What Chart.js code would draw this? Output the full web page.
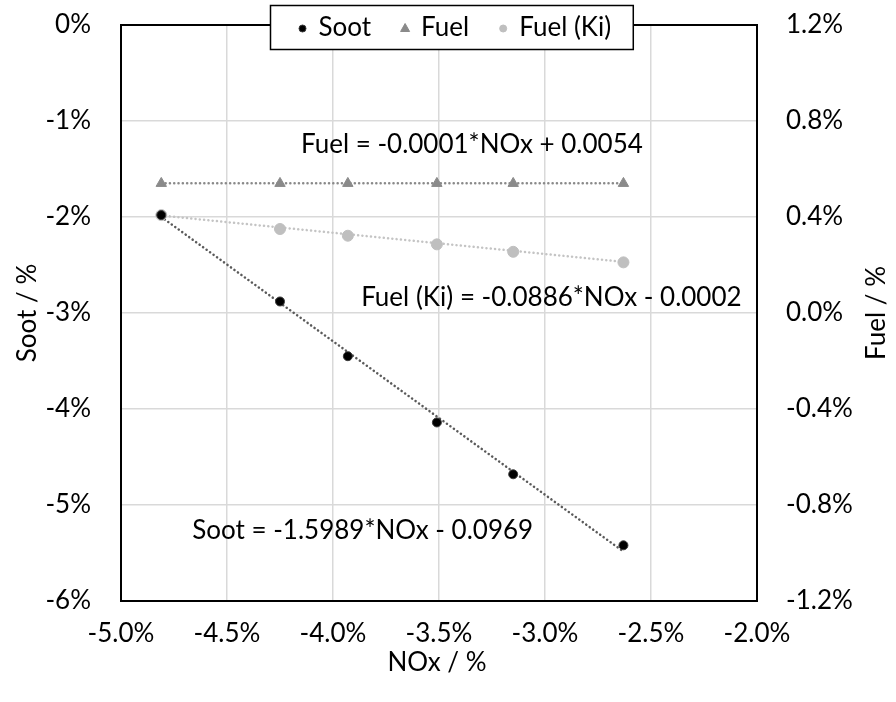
<!DOCTYPE html>
<html>
<head>
<meta charset="utf-8">
<script src="https://cdn.jsdelivr.net/npm/chart.js@4.4.1/dist/chart.umd.min.js"></script>
<style>
  html, body { margin: 0; padding: 0; background: #fff; }
  #wrap { width: 896px; height: 702px; }
</style>
</head>
<body>
<div id="wrap"><canvas id="c" width="896" height="702"></canvas></div>
<script>
// Measured points (all values in %)
const noxPct    = [-4.81, -4.25, -3.93, -3.51, -3.15, -2.63];
const sootPct   = [-1.98, -2.88, -3.45, -4.14, -4.68, -5.42];
const fuelPct   = [0.54, 0.54, 0.54, 0.54, 0.54, 0.54];
const fuelKiPct = [0.408, 0.350, 0.322, 0.286, 0.255, 0.211];

const seriesNames = ['Soot', 'Fuel', 'Fuel (Ki)'];

// Linear trend coefficients in fraction units: y = slope * NOx + intercept
const sootFit   = { slope: -1.5989, intercept: -0.0969 };
const fuelFit   = { slope: -0.0001, intercept: 0.0054 };
const fuelKiFit = { slope: -0.0886, intercept: -0.0002 };

// Axis ticks
const xTicks    = [-5.0, -4.5, -4.0, -3.5, -3.0, -2.5, -2.0];
const sootTicks = [0, -1, -2, -3, -4, -5, -6];
const fuelTicks = [1.2, 0.8, 0.4, 0.0, -0.4, -0.8, -1.2];

const FONT = 'Lato';
const FS = 26;
const TXT = '#000';

// trend line through the first and last NOx value, computed in % units
function trend(fit) {
  const xs = [noxPct[0], noxPct[noxPct.length - 1]];
  return xs.map(x => ({ x: x, y: fit.slope * x + fit.intercept * 100 }));
}
function eqText(name, fit) {
  const sign = fit.intercept < 0 ? '-' : '+';
  return name + ' = ' + fit.slope.toFixed(4) + '*NOx ' + sign + ' ' + Math.abs(fit.intercept).toFixed(4);
}
const pts = ys => noxPct.map((x, i) => ({ x: x, y: ys[i] }));

const sootStyle   = { color: '#000000', border: '#3a3a3a', style: 'circle',   r: 4.5 };
const fuelStyle   = { color: '#8a8a8a', border: '#8a8a8a', style: 'triangle', r: 6 };
const fuelKiStyle = { color: '#bfbfbf', border: '#bfbfbf', style: 'circle',   r: 5.5 };

// equation labels: text, centre position on the NOx / Soot scales
const eqLabels = [
  { text: eqText('Fuel', fuelFit),        x: -3.345, y: -1.25 },
  { text: eqText('Fuel (Ki)', fuelKiFit), x: -2.97,  y: -2.84 },
  { text: eqText('Soot', sootFit),        x: -3.86,  y: -5.27 }
];

function drawMarker(ctx, style, x, y, r, fill, stroke) {
  ctx.save();
  ctx.fillStyle = fill;
  ctx.strokeStyle = stroke;
  ctx.lineWidth = 1;
  ctx.beginPath();
  if (style === 'triangle') {
    ctx.moveTo(x, y - r);
    ctx.lineTo(x + r * 0.9, y + r * 0.6);
    ctx.lineTo(x - r * 0.9, y + r * 0.6);
    ctx.closePath();
  } else {
    ctx.arc(x, y, r, 0, Math.PI * 2);
  }
  ctx.fill();
  ctx.stroke();
  ctx.restore();
}

const decorPlugin = {
  id: 'decor',
  afterDatasetsDraw(chart) {
    const { ctx, chartArea: a } = chart;
    ctx.save();
    ctx.strokeStyle = '#000';
    ctx.lineWidth = 2;
    ctx.strokeRect(a.left, a.top, a.right - a.left, a.bottom - a.top);
    ctx.restore();
  },
  afterDraw(chart) {
    const { ctx, chartArea: a, scales } = chart;
    ctx.save();
    ctx.font = FS + 'px ' + FONT;
    ctx.fillStyle = TXT;
    ctx.textAlign = 'center';
    ctx.textBaseline = 'middle';

    // equation labels
    eqLabels.forEach(l => {
      ctx.fillText(l.text, scales.x.getPixelForValue(l.x), scales.y.getPixelForValue(l.y));
    });

    // axis titles
    ctx.fillText('NOx / %', (a.left + a.right) / 2 - 2, 663);
    const midY = (a.top + a.bottom) / 2;
    ctx.save();
    ctx.translate(28, midY);
    ctx.rotate(-Math.PI / 2);
    ctx.fillText('Soot / %', 0, 0);
    ctx.restore();
    ctx.save();
    ctx.translate(877, midY);
    ctx.rotate(-Math.PI / 2);
    ctx.fillText('Fuel / %', 0, 0);
    ctx.restore();

    // legend box
    const styles = [sootStyle, fuelStyle, fuelKiStyle];
    const toText = 20, gap = 30, padL = 32, padR = 18;
    ctx.textAlign = 'left';
    const widths = seriesNames.map(n => ctx.measureText(n).width);
    const boxW = padL + padR + widths.reduce((s, w) => s + w + toText, 0) + gap * (seriesNames.length - 1);
    const boxH = 44;
    const cx = 451;
    const bx = Math.round(cx - boxW / 2) + 0.5, by = 5.5;
    ctx.fillStyle = '#fff';
    ctx.fillRect(bx, by, boxW, boxH);
    ctx.strokeStyle = '#000';
    ctx.lineWidth = 1.5;
    ctx.strokeRect(bx, by, boxW, boxH);
    let xx = bx + padL;
    const ly = by + boxH / 2;
    seriesNames.forEach((n, i) => {
      const s = styles[i];
      const r = s.style === 'triangle' ? 5 : 3.5;
      drawMarker(ctx, s.style, xx, ly + 1, r, s.color, s.border);
      ctx.fillStyle = TXT;
      ctx.fillText(n, xx + toText - 4, ly);
      xx += toText + widths[i] + gap;
    });
    ctx.restore();
  }
};

function scatterSet(label, data, st, axis) {
  return {
    label: label, data: data, yAxisID: axis, order: 0,
    showLine: false, pointStyle: st.style, pointRadius: st.r, pointHoverRadius: st.r,
    backgroundColor: st.color, borderColor: st.border, pointBorderWidth: 1
  };
}
function trendSet(data, color, axis) {
  return {
    data: data, yAxisID: axis, order: 1, showLine: true,
    pointRadius: 0, borderColor: color, borderWidth: 2.5,
    borderDash: [0.1, 4.2], borderCapStyle: 'round', fill: false
  };
}

// fixed axis box sizes; label overflow padding is dropped so the plot frame stays put
function fixV(width) {
  return s => { s.width = width; s.paddingTop = 0; s.paddingBottom = 0; };
}
function fixH(height) {
  return s => { s.height = height; s.paddingLeft = 0; s.paddingRight = 0; };
}

function build() {
  const tickFont = { family: FONT, size: FS };
  new Chart(document.getElementById('c'), {
    type: 'scatter',
    data: {
      datasets: [
        scatterSet(seriesNames[0], pts(sootPct), sootStyle, 'y'),
        scatterSet(seriesNames[1], pts(fuelPct), fuelStyle, 'y2'),
        scatterSet(seriesNames[2], pts(fuelKiPct), fuelKiStyle, 'y2'),
        trendSet(trend(fuelFit), '#8a8a8a', 'y2'),
        trendSet(trend(fuelKiFit), '#c4c4c4', 'y2'),
        trendSet(trend(sootFit), '#5a5a5a', 'y')
      ]
    },
    options: {
      responsive: false,
      animation: false,
      layout: { padding: { top: 25, left: 0, right: 0, bottom: 0 } },
      plugins: { legend: { display: false }, tooltip: { enabled: false } },
      scales: {
        x: {
          type: 'linear', position: 'bottom', min: -5, max: -2,
          afterBuildTicks: s => { s.ticks = xTicks.map(v => ({ value: v })); },
          afterFit: fixH(101),
          ticks: { font: tickFont, color: TXT, padding: 17, maxRotation: 0,
                   callback: v => v.toFixed(1) + '%' },
          grid: { color: '#d9d9d9', lineWidth: 1.5, drawTicks: false },
          border: { display: false }
        },
        y: {
          type: 'linear', position: 'left', min: -6, max: 0,
          afterBuildTicks: s => { s.ticks = sootTicks.map(v => ({ value: v })); },
          afterFit: fixV(121),
          ticks: { font: tickFont, color: TXT, padding: 30,
                   callback: v => Math.round(v) + '%' },
          grid: { color: '#d9d9d9', lineWidth: 1.5, drawTicks: false },
          border: { display: false }
        },
        y2: {
          type: 'linear', position: 'right', min: -1.2, max: 1.2,
          afterBuildTicks: s => { s.ticks = fuelTicks.map(v => ({ value: v })); },
          afterFit: fixV(139),
          ticks: { font: tickFont, color: TXT, padding: 29,
                   callback: v => v.toFixed(1) + '%' },
          grid: { display: false, drawTicks: false },
          border: { display: false }
        }
      }
    },
    plugins: [decorPlugin]
  });
}

if (document.fonts && document.fonts.load) {
  document.fonts.load(FS + 'px ' + FONT).then(build, build);
} else {
  build();
}
</script>
</body>
</html>
